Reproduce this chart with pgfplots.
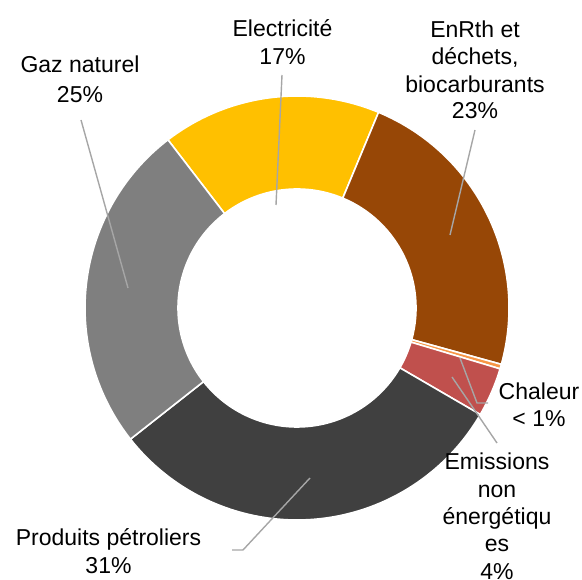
\documentclass[border=0pt]{standalone}
\usepackage{fontspec}
\setmainfont{Liberation Sans}
\usepackage{pgfplots}
\usepackage{pgfplotstable}
\pgfplotsset{compat=1.18}
\definecolor{cElec}{HTML}{FFC000}
\definecolor{cEnr}{HTML}{974706}
\definecolor{cChal}{HTML}{F79646}
\definecolor{cEmis}{HTML}{C0504D}
\definecolor{cProd}{HTML}{404040}
\definecolor{cGaz}{HTML}{7F7F7F}
\definecolor{cLead}{HTML}{A6A6A6}
\tikzset{
  lbl/.style={anchor=base, inner sep=0pt, font=\fontsize{23bp}{28bp}\selectfont},
  lead/.style={draw=cLead, line width=1.4bp},
}

\pgfplotstableread[col sep=comma]{
name,value,color
Electricite,16.7,cElec
EnRth,23.0,cEnr
Chaleur,0.35,cChal
Emissions,3.75,cEmis
Produits,31.0,cProd
Gaz,25.2,cGaz
}\slices

\begin{document}
\begin{tikzpicture}
\begin{axis}[
  width=582bp, height=580bp, scale only axis,
  xmin=0, xmax=582, ymin=0, ymax=580,
  hide axis, clip=true,
]
\pgfmathsetmacro\cumangle{127.5}
\pgfplotstablegetrowsof{\slices}
\pgfmathtruncatemacro\nrows{\pgfplotsretval-1}
\pgfplotsforeachungrouped \i in {0,...,\nrows}{%
  \pgfplotstablegetelem{\i}{value}\of\slices \let\val\pgfplotsretval
  \pgfplotstablegetelem{\i}{color}\of\slices \let\col\pgfplotsretval
  \pgfmathsetmacro\aend{\cumangle-3.6*\val}%
  \edef\temp{\noexpand\filldraw[fill=\col, draw=white, line width=1.6bp]
    ([shift={(\cumangle:212bp)}]axis cs:297,272)
    arc[start angle=\cumangle, end angle=\aend, radius=212bp]
    -- ([shift={(\aend:119bp)}]axis cs:297,272)
    arc[start angle=\aend, end angle=\cumangle, radius=119bp] -- cycle;}%
  \temp
  \global\let\cumangle\aend
}

% leader lines
\draw[lead] (axis cs:282,505) -- (axis cs:276,375);
\draw[lead] (axis cs:475,450) -- (axis cs:450,345);
\draw[lead] (axis cs:81,460) -- (axis cs:128,292);
\draw[lead] (axis cs:232,30) -- (axis cs:243,30) -- (axis cs:310,102);
\draw[lead] (axis cs:488,177) -- (axis cs:477,177) -- (axis cs:460,222);
\draw[lead] (axis cs:497,137) -- (axis cs:452,203);

% labels
\node[lbl] at (axis cs:282.5,543) {Electricité};
\node[lbl] at (axis cs:282.5,515) {17\%};
\node[lbl] at (axis cs:80,507) {Gaz naturel};
\node[lbl] at (axis cs:80,477) {25\%};
\node[lbl] at (axis cs:475,542) {EnRth et};
\node[lbl] at (axis cs:475,515) {déchets,};
\node[lbl] at (axis cs:475,487) {biocarburants};
\node[lbl] at (axis cs:475,461) {23\%};
\node[lbl] at (axis cs:539,180) {Chaleur};
\node[lbl] at (axis cs:539,153) {< 1\%};
\node[lbl] at (axis cs:497,110) {Emissions};
\node[lbl] at (axis cs:497,82) {non};
\node[lbl] at (axis cs:497,55) {énergétiqu};
\node[lbl] at (axis cs:497,28) {es};
\node[lbl] at (axis cs:497,0) {4\%};
\node[lbl] at (axis cs:108.5,34) {Produits pétroliers};
\node[lbl] at (axis cs:108.5,6) {31\%};
\end{axis}
\pgfresetboundingbox
\path[use as bounding box] (current axis.south west) rectangle (current axis.north east);
\end{tikzpicture}
\end{document}
